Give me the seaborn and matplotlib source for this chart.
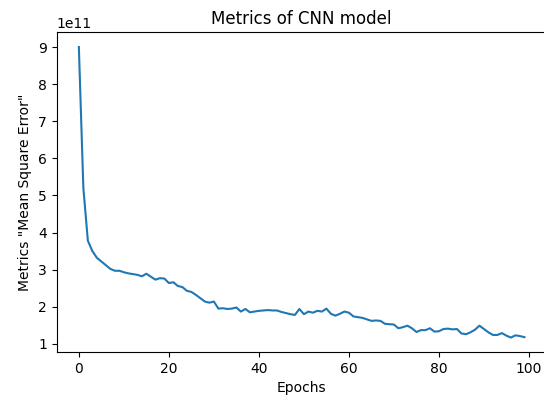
import numpy as np
import pandas as pd
import matplotlib
matplotlib.use("Agg")
import matplotlib.pyplot as plt
import seaborn as sns

# MSE per epoch (units of 1e11)
epochs = list(range(100))
mse_e11 = [
    9.00, 5.20, 3.78, 3.50, 3.32, 3.22, 3.12, 3.02, 2.97, 2.97,
    2.93, 2.90, 2.88, 2.86, 2.82, 2.89, 2.81, 2.73, 2.77, 2.76,
    2.64, 2.66, 2.56, 2.53, 2.43, 2.40, 2.32, 2.23, 2.14, 2.11,
    2.14, 1.95, 1.96, 1.94, 1.95, 1.98, 1.87, 1.94, 1.85, 1.87,
    1.89, 1.90, 1.91, 1.90, 1.90, 1.86, 1.83, 1.80, 1.78, 1.94,
    1.80, 1.87, 1.84, 1.89, 1.87, 1.95, 1.81, 1.76, 1.81, 1.87,
    1.84, 1.74, 1.72, 1.70, 1.66, 1.62, 1.63, 1.62, 1.54, 1.53,
    1.52, 1.42, 1.45, 1.49, 1.42, 1.32, 1.37, 1.37, 1.42, 1.33,
    1.34, 1.40, 1.41, 1.39, 1.40, 1.28, 1.26, 1.31, 1.38, 1.49,
    1.40, 1.31, 1.24, 1.24, 1.29, 1.22, 1.17, 1.23, 1.21, 1.18,
]

df = pd.DataFrame({"epoch": epochs, "mse": np.array(mse_e11) * 1e11})

fig = plt.figure(figsize=(5.44, 4.01), dpi=100)
ax = fig.add_axes([0.104, 0.122, 0.901, 0.797])

sns.lineplot(data=df, x="epoch", y="mse", ax=ax, linewidth=1.5)

ax.set_title("Metrics of CNN model", fontsize=12)
ax.set_xlabel("Epochs")
ax.set_ylabel('Metrics "Mean Square Error"')

fig.savefig("out.png", dpi=100)
